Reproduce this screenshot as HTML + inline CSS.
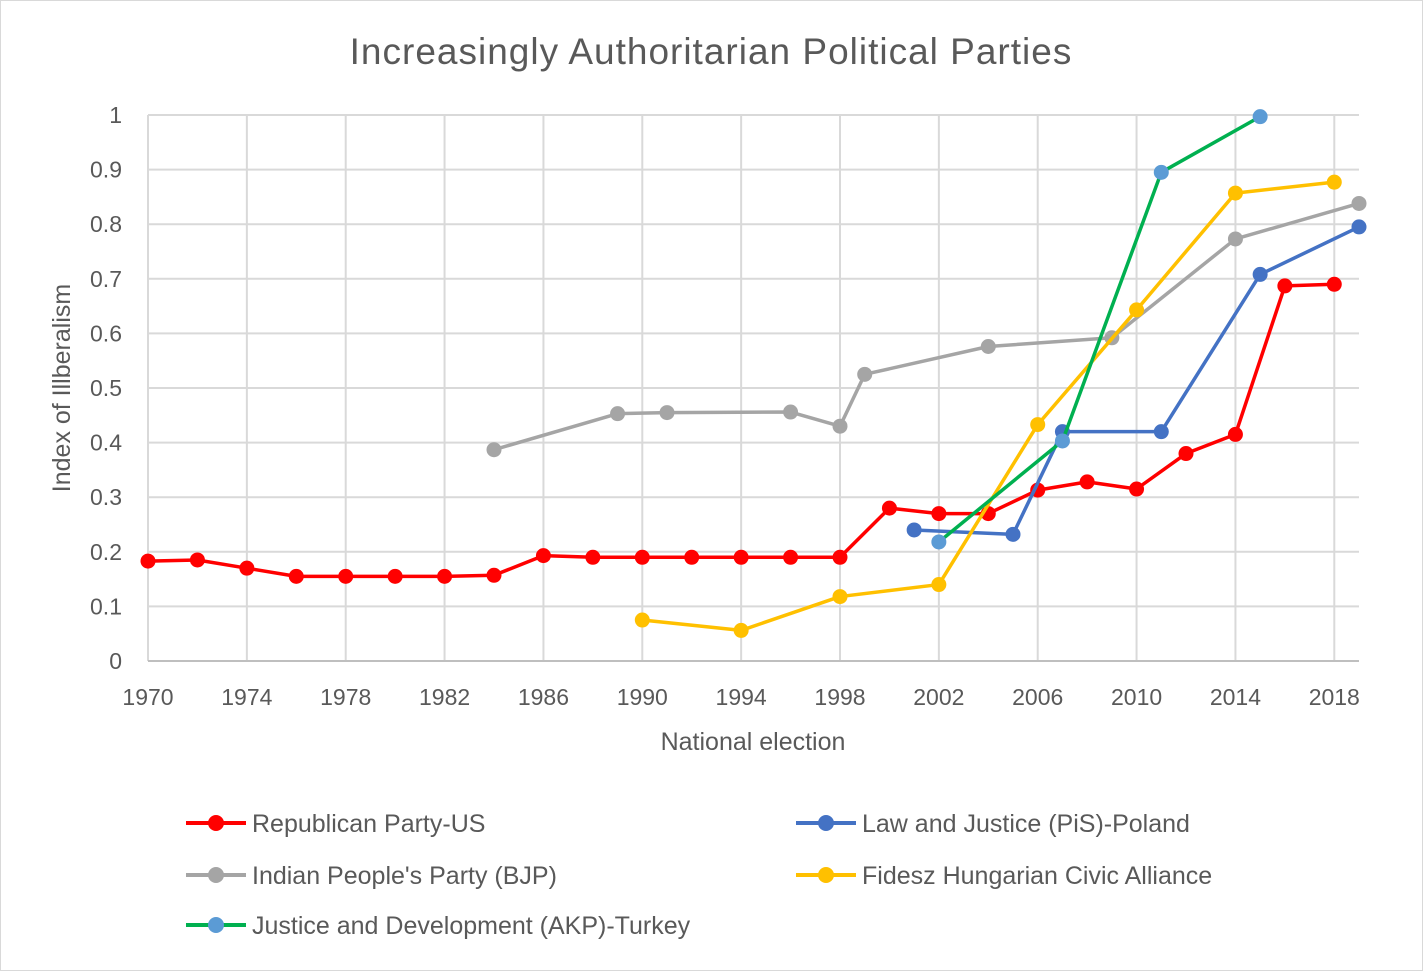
<!DOCTYPE html>
<html><head><meta charset="utf-8">
<style>
body{margin:0;background:#fff;}
svg{display:block;font-family:"Liberation Sans",sans-serif;}
</style></head>
<body>
<svg id="c" width="1423" height="971" viewBox="0 0 1423 971">
<rect x="0.5" y="0.5" width="1422" height="970" fill="#fff" stroke="#d9d9d9"/>
<text x="711" y="64" text-anchor="middle" font-size="37" letter-spacing="1" fill="#595959">Increasingly Authoritarian Political Parties</text>
<g id="grid"></g>
<g id="series"></g>
<text x="0" y="0" transform="translate(70,388) rotate(-90)" text-anchor="middle" font-size="25" fill="#595959">Index of Illberalism</text>
<text x="753" y="750" text-anchor="middle" font-size="25" fill="#595959">National election</text>
<g id="legend"></g>
</svg>
<script>
const xTicks=[1970,1974,1978,1982,1986,1990,1994,1998,2002,2006,2010,2014,2018];
const yTicks=[0,0.1,0.2,0.3,0.4,0.5,0.6,0.7,0.8,0.9,1];
const yTickLabels=["0","0.1","0.2","0.3","0.4","0.5","0.6","0.7","0.8","0.9","1"];
const repYears=[1970,1972,1974,1976,1978,1980,1982,1984,1986,1988,1990,1992,1994,1996,1998,2000,2002,2004,2006,2008,2010,2012,2014,2016,2018];
const repVals=[.183,.185,.17,.155,.155,.155,.155,.157,.193,.19,.19,.19,.19,.19,.19,.28,.27,.27,.313,.328,.315,.38,.415,.687,.69];
const bjpYears=[1984,1989,1991,1996,1998,1999,2004,2009,2014,2019];
const bjpVals=[.387,.453,.455,.456,.43,.525,.576,.592,.773,.838];
const pisYears=[2001,2005,2007,2011,2015,2019];
const pisVals=[.24,.232,.42,.42,.708,.795];
const fidYears=[1990,1994,1998,2002,2006,2010,2014,2018];
const fidVals=[.075,.056,.118,.14,.433,.643,.857,.877];
const akpYears=[2002,2007,2011,2015];
const akpVals=[.218,.403,.895,.997];

const NS="http://www.w3.org/2000/svg";
const X0=148,X1=1359,Y0=661,Y1=115,YR0=1970,YR1=2019;
const xs=y=>X0+(y-YR0)/(YR1-YR0)*(X1-X0);
const ys=v=>Y0-(v/1)*(Y0-Y1);
function mk(tag,attrs,parent){const e=document.createElementNS(NS,tag);for(const k in attrs)e.setAttribute(k,attrs[k]);parent.appendChild(e);return e;}
const grid=document.getElementById('grid');
yTicks.forEach((t,i)=>{
  const l=mk('line',{x1:X0,x2:X1,y1:ys(t),y2:ys(t),stroke:'#d9d9d9','stroke-width':2},grid);
  
  
  const tx=mk('text',{x:122,y:ys(t)+8,'text-anchor':'end','font-size':23,fill:'#595959'},grid);
  tx.textContent=yTickLabels[i];
  
  
});
xTicks.forEach(t=>{
  const l=mk('line',{x1:xs(t),x2:xs(t),y1:Y1,y2:Y0,stroke:'#d9d9d9','stroke-width':2},grid);
  
  
  const tx=mk('text',{x:xs(t),y:705,'text-anchor':'middle','font-size':23,fill:'#595959'},grid);
  tx.textContent=t;
  
  
});
const ax=mk('line',{x1:X0,x2:X1,y1:Y0,y2:Y0,stroke:'#bfbfbf','stroke-width':2},grid);



const series=[
 {name:'republican',years:repYears,vals:repVals,line:'#ff0000',mark:'#ff0000'},
 {name:'bjp',years:bjpYears,vals:bjpVals,line:'#a5a5a5',mark:'#a5a5a5'},
 {name:'pis',years:pisYears,vals:pisVals,line:'#4472c4',mark:'#4472c4'},
 {name:'fidesz',years:fidYears,vals:fidVals,line:'#ffc000',mark:'#ffc000'},
 {name:'akp',years:akpYears,vals:akpVals,line:'#00b050',mark:'#5b9bd5'}
];
const sg=document.getElementById('series');
series.forEach(s=>{
  const pts=s.years.map((y,i)=>xs(y)+','+ys(s.vals[i])).join(' ');
  const pl=mk('polyline',{points:pts,fill:'none',stroke:s.line,'stroke-width':3.5,'stroke-linejoin':'round'},sg);
  
  
  s.years.forEach((y,i)=>{
    const c=mk('circle',{cx:xs(y),cy:ys(s.vals[i]),r:7.5,fill:s.mark},sg);
    
    
  });
});
const legendItems=[
 {label:'Republican Party-US',line:'#ff0000',mark:'#ff0000',x:186,y:823},
 {label:'Law and Justice (PiS)-Poland',line:'#4472c4',mark:'#4472c4',x:796,y:823},
 {label:"Indian People's Party (BJP)",line:'#a5a5a5',mark:'#a5a5a5',x:186,y:875},
 {label:'Fidesz Hungarian Civic Alliance',line:'#ffc000',mark:'#ffc000',x:796,y:875},
 {label:'Justice and Development (AKP)-Turkey',line:'#00b050',mark:'#5b9bd5',x:186,y:925}
];
const lg=document.getElementById('legend');
legendItems.forEach(it=>{
  const g=mk('g',{},lg);
  
  
  mk('line',{x1:it.x,x2:it.x+60,y1:it.y,y2:it.y,stroke:it.line,'stroke-width':4},g);
  mk('circle',{cx:it.x+30,cy:it.y,r:8,fill:it.mark},g);
  const t=mk('text',{x:it.x+66,y:it.y+9,'font-size':25,fill:'#595959'},g);
  t.textContent=it.label;
});
</script>
</body></html>
